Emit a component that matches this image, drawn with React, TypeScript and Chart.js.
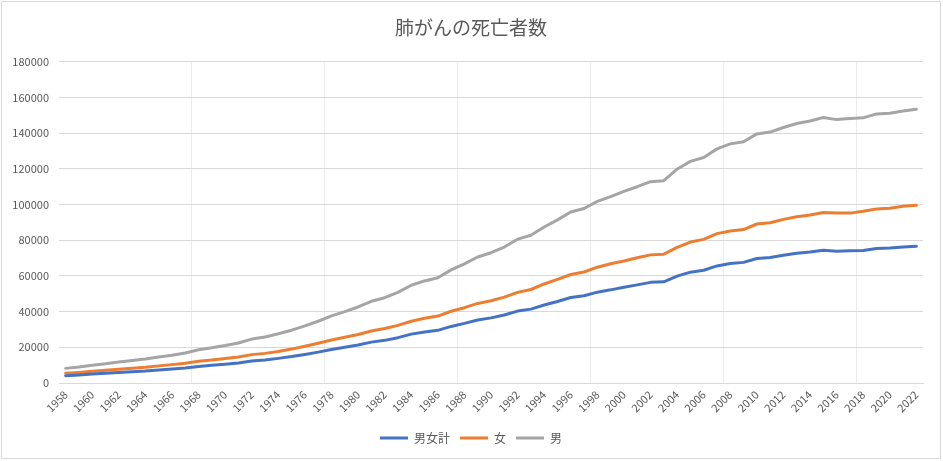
import React, { useEffect, useRef } from "react";
import { Chart, registerables } from "chart.js";

Chart.register(...registerables);

const chartTitle = "肺がんの死亡者数";
const seriesNames = ["男女計", "女", "男"];
const seriesColors = ["#4472C4", "#ED7D31", "#A5A5A5"];

const years = [
  "1958", "1959", "1960", "1961", "1962", "1963", "1964", "1965", "1966", "1967",
  "1968", "1969", "1970", "1971", "1972", "1973", "1974", "1975", "1976", "1977",
  "1978", "1979", "1980", "1981", "1982", "1983", "1984", "1985", "1986", "1987",
  "1988", "1989", "1990", "1991", "1992", "1993", "1994", "1995", "1996", "1997",
  "1998", "1999", "2000", "2001", "2002", "2003", "2004", "2005", "2006", "2007",
  "2008", "2009", "2010", "2011", "2012", "2013", "2014", "2015", "2016", "2017",
  "2018", "2019", "2020", "2021", "2022",
];

// 男女計
const totalDeaths = [
  4100, 4500, 5000, 5400, 5900, 6300, 6700, 7300, 7800, 8400,
  9300, 9900, 10500, 11200, 12300, 12900, 13800, 14800, 16000, 17300,
  18800, 20000, 21300, 22900, 23900, 25400, 27400, 28600, 29500, 31700,
  33400, 35300, 36500, 38100, 40300, 41400, 43700, 45700, 47900, 48900,
  50900, 52200, 53700, 55000, 56400, 56700, 59900, 62100, 63200, 65600,
  67000, 67600, 69800, 70300, 71600, 72700, 73400, 74400, 73800, 74100,
  74300, 75400, 75600, 76200, 76700,
];

// 女
const femaleDeaths = [
  1300, 1400, 1550, 1700, 1850, 2000, 2150, 2300, 2500, 2700,
  2900, 3000, 3200, 3400, 3600, 3700, 3800, 4200, 4600, 5000,
  5300, 5600, 5900, 6200, 6600, 6900, 7200, 7700, 8000, 8500,
  8800, 9300, 9600, 10000, 10500, 11000, 11800, 12400, 12900, 13300,
  14000, 14600, 14700, 15200, 15400, 15500, 16100, 16900, 17300, 18100,
  18200, 18400, 19300, 19500, 20100, 20500, 20800, 21200, 21400, 21100,
  21900, 22100, 22300, 22900, 22900,
];

// 男
const maleDeaths = [
  2800, 3100, 3450, 3700, 4050, 4300, 4550, 5000, 5300, 5700,
  6400, 6900, 7300, 7800, 8700, 9200, 10000, 10600, 11400, 12300,
  13500, 14400, 15400, 16700, 17300, 18500, 20200, 20900, 21500, 23200,
  24600, 26000, 26900, 28100, 29800, 30400, 31900, 33300, 35000, 35600,
  36900, 37600, 39000, 39800, 41000, 41200, 43800, 45200, 45900, 47500,
  48800, 49200, 50500, 50800, 51500, 52200, 52600, 53200, 52400, 53000,
  52400, 53300, 53300, 53300, 53800,
];

const yMin = 0;
const yMax = 180000;
const yStep = 20000;

const FONT = "'Noto Sans CJK JP', 'Noto Sans', sans-serif";
const TEXT = "#595959";

export default function App() {
  const canvasRef = useRef<HTMLCanvasElement | null>(null);

  useEffect(() => {
    document.body.style.margin = "0";
    const canvas = canvasRef.current;
    if (!canvas) return;
    Chart.defaults.font.family = FONT;
    const seriesData = [totalDeaths, femaleDeaths, maleDeaths];
    const chart = new Chart(canvas, {
      type: "line",
      data: {
        labels: years,
        datasets: seriesData.map((d, i) => ({
          label: seriesNames[i],
          data: d,
          borderColor: seriesColors[i],
          backgroundColor: seriesColors[i],
          borderWidth: 3,
          pointRadius: 0,
          pointHoverRadius: 0,
          tension: 0,
          fill: false,
          borderJoinStyle: "round" as const,
          borderCapStyle: "round" as const,
        })),
      },
      options: {
        animation: false,
        responsive: false,
        devicePixelRatio: 1,
        layout: { padding: { left: 0, right: 0, top: 0, bottom: 4 } },
        plugins: {
          title: {
            display: true,
            text: chartTitle,
            color: TEXT,
            font: { family: FONT, size: 19, weight: "normal" },
            padding: { top: 14, bottom: 23 },
          },
          legend: {
            position: "bottom",
            labels: {
              usePointStyle: true,
              pointStyle: "line",
              pointStyleWidth: 28,
              color: TEXT,
              font: { family: FONT, size: 12 },
              padding: 10,
            },
          },
          tooltip: { enabled: false },
        },
        scales: {
          x: {
            offset: true,
            grid: {
              offset: true,
              drawTicks: false,
              color: (ctx: any) => {
                const i = ctx.index;
                return i > 0 && i < years.length && i % 10 === 0 ? "#ececec" : "rgba(0,0,0,0)";
              },
            },
            border: { display: true, color: "#d9d9d9", width: 1 },
            ticks: {
              autoSkip: false,
              minRotation: 45,
              maxRotation: 45,
              padding: 5,
              color: TEXT,
              font: { family: FONT, size: 11 },
              callback: (_v: any, index: number) => (index % 2 === 0 ? years[index] : ""),
            },
            afterFit: (scale: any) => {
              scale.height = 39;
              scale.paddingRight = 17;
            },
          },
          y: {
            stacked: true,
            min: yMin,
            max: yMax,
            grid: { color: "#d9d9d9", drawTicks: false },
            border: { display: false },
            ticks: {
              stepSize: yStep,
              padding: 10,
              color: TEXT,
              font: { family: FONT, size: 11 },
              callback: (v: any) => String(v),
            },
            afterFit: (scale: any) => {
              scale.width = 57;
            },
          },
        },
      },
    });
    return () => chart.destroy();
  }, []);

  return (
    <div
      style={{
        position: "absolute",
        left: 1,
        top: 1,
        width: 940,
        height: 458,
        boxSizing: "border-box",
        border: "1px solid #d9d9d9",
        background: "#ffffff",
      }}
    >
      <canvas ref={canvasRef} width={938} height={456} style={{ display: "block" }} />
    </div>
  );
}
